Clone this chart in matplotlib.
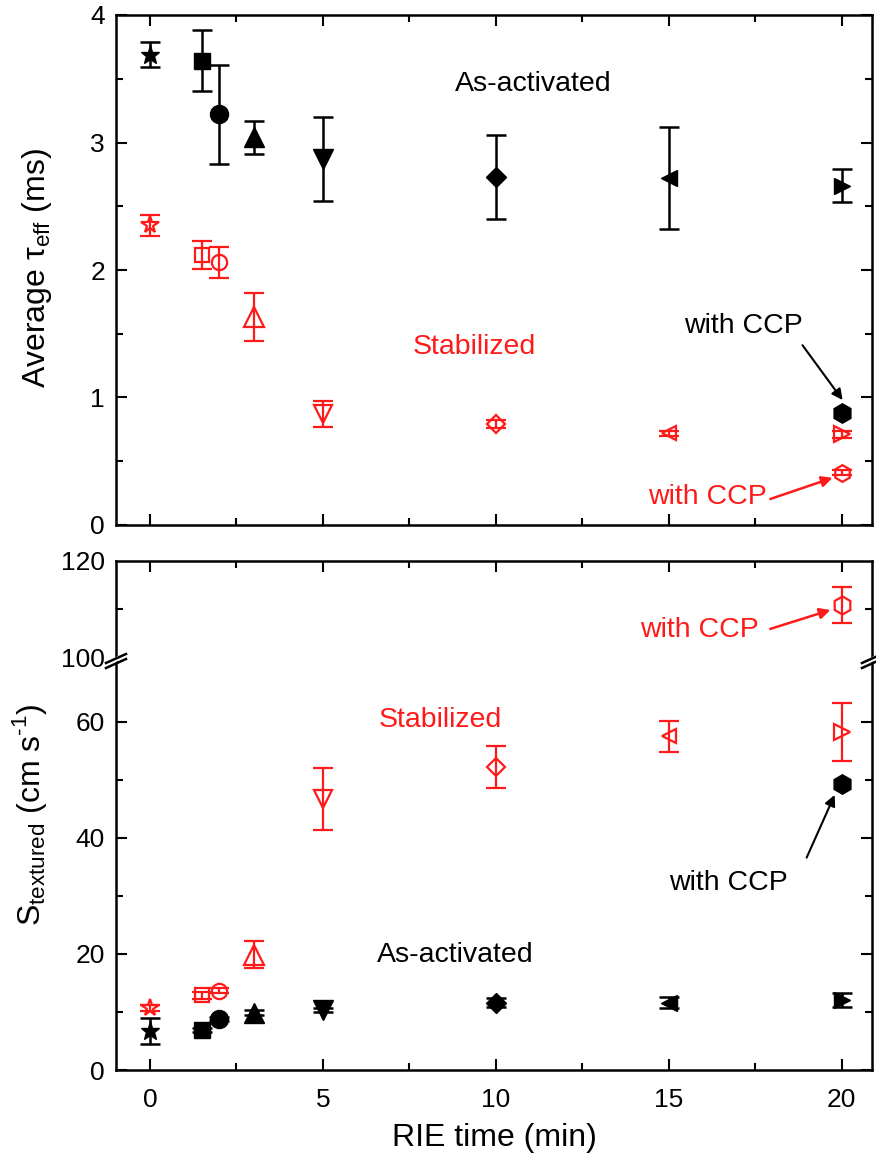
import matplotlib
matplotlib.use("Agg")
import matplotlib.pyplot as plt
from matplotlib.ticker import MultipleLocator, FixedLocator, NullFormatter
from matplotlib.patches import Polygon

plt.rcParams['font.family'] = ['Liberation Sans', 'DejaVu Sans']
plt.rcParams['mathtext.fontset'] = 'custom'
plt.rcParams['mathtext.rm'] = 'Liberation Sans'

# data
rie = [0, 1.5, 2, 3, 5, 10, 15, 20]

tau_act = [3.69, 3.64, 3.22, 3.04, 2.87, 2.73, 2.72, 2.66]
tau_act_err = [0.10, 0.24, 0.39, 0.13, 0.33, 0.33, 0.40, 0.13]
tau_stab = [2.35, 2.12, 2.06, 1.63, 0.87, 0.79, 0.72, 0.71]
tau_stab_err = [0.08, 0.11, 0.12, 0.19, 0.10, 0.03, 0.02, 0.03]
tau_ccp_act = 0.88
tau_ccp_stab = 0.41
tau_ccp_stab_err = 0.02

s_act = [6.7, 6.9, 8.8, 9.9, 10.3, 11.6, 11.6, 12.1]
s_act_err = [2.3, 0.4, 0.3, 0.5, 0.3, 0.8, 1.0, 1.2]
s_stab = [10.7, 12.9, 13.7, 19.9, 46.7, 52.2, 57.5, 58.3]
s_stab_err = [0.5, 0.6, 0.5, 2.3, 5.3, 3.6, 2.7, 5.0]
s_ccp_act = 49.3
s_ccp_stab = 110.9
s_ccp_stab_err = 3.7
ccp_time = 20

# styles
markers = ['*', 's', 'o', '^', 'v', 'D', '<', '>']
ms_black = [14, 11, 13, 14, 14, 10, 12, 12]
ms_red = [13, 10, 11, 14, 13, 9, 10, 11]
RED = '#ff1a1a'
TICK_FS = 19
LABEL_FS = 23
NOTE_FS = 20.5

W, H = 876, 1159
fig = plt.figure(figsize=(W / 100, H / 100), dpi=100)


def frac(x0, y0, x1, y1):
    # pixel box (left, top, right, bottom) -> figure fraction rect
    return [x0 / W, 1 - y1 / H, (x1 - x0) / W, (y1 - y0) / H]


ax_top = fig.add_axes(frac(116, 15, 872, 525))
ax_hi = fig.add_axes(frac(116, 561, 872, 658))
ax_lo = fig.add_axes(frac(116, 658, 872, 1070))

XLIM = (-0.98, 20.88)


def points(ax, y_act, e_act, y_stab, e_stab):
    for i, x in enumerate(rie):
        ax.errorbar(x, y_stab[i], yerr=e_stab[i], fmt=markers[i], ms=ms_red[i],
                    mfc='none', mec=RED, mew=1.6, color=RED, elinewidth=1.6,
                    capsize=7, capthick=1.6, zorder=3)
    for i, x in enumerate(rie):
        ax.errorbar(x, y_act[i], yerr=e_act[i], fmt=markers[i], ms=ms_black[i],
                    color='black', elinewidth=1.8, capsize=7, capthick=1.8,
                    zorder=4)


def style(ax):
    ax.set_xlim(*XLIM)
    ax.xaxis.set_major_locator(MultipleLocator(5))
    ax.xaxis.set_minor_locator(MultipleLocator(2.5))
    ax.tick_params(which='both', direction='in', width=1.5, top=True, right=True,
                   labelsize=TICK_FS)
    ax.tick_params(axis='x', pad=13)
    ax.tick_params(axis='y', pad=8)
    ax.tick_params(which='major', length=8)
    ax.tick_params(which='minor', length=5)
    for sp in ax.spines.values():
        sp.set_linewidth(1.8)


# top panel: lifetime
points(ax_top, tau_act, tau_act_err, tau_stab, tau_stab_err)
ax_top.errorbar(ccp_time, tau_ccp_stab, yerr=tau_ccp_stab_err, fmt='h', ms=12,
                mfc='none', mec=RED, mew=1.6, color=RED, elinewidth=1.6,
                capsize=7, capthick=1.6, zorder=3)
ax_top.plot(ccp_time, tau_ccp_act, 'h', ms=14, color='black', zorder=4)
style(ax_top)
ax_top.set_ylim(0, 4)
ax_top.yaxis.set_major_locator(MultipleLocator(1))
ax_top.yaxis.set_minor_locator(MultipleLocator(0.5))
ax_top.xaxis.set_major_formatter(NullFormatter())

ax_top.text(11.09, 3.46, 'As-activated', fontsize=NOTE_FS, ha='center', va='center')
ax_top.text(9.38, 1.40, 'Stabilized', fontsize=NOTE_FS, ha='center', va='center', color=RED)
ax_top.text(17.16, 1.56, 'with CCP', fontsize=NOTE_FS, ha='center', va='center')
ax_top.annotate('', xy=(20.03, 0.98), xytext=(18.87, 1.41),
                arrowprops=dict(arrowstyle='-|>', color='black', lw=1.5,
                                mutation_scale=16, shrinkA=0, shrinkB=0))
ax_top.text(16.12, 0.22, 'with CCP', fontsize=NOTE_FS, ha='center', va='center', color=RED)
ax_top.annotate('', xy=(19.74, 0.37), xytext=(17.94, 0.204),
                arrowprops=dict(arrowstyle='-|>', color=RED, lw=1.8,
                                mutation_scale=16, shrinkA=0, shrinkB=0))

# bottom panel: surface recombination velocity, broken y axis
points(ax_lo, s_act, s_act_err, s_stab, s_stab_err)
ax_lo.plot(ccp_time, s_ccp_act, 'h', ms=14, color='black', zorder=4)
ax_hi.errorbar(ccp_time, s_ccp_stab, yerr=s_ccp_stab_err, fmt='h', ms=13,
               mfc='none', mec=RED, mew=1.6, color=RED, elinewidth=1.6,
               capsize=7, capthick=1.6, zorder=3)

style(ax_lo)
style(ax_hi)
ax_lo.set_ylim(0, 71)
ax_lo.yaxis.set_major_locator(FixedLocator([0, 20, 40, 60]))
ax_lo.yaxis.set_minor_locator(FixedLocator([10, 30, 50]))
ax_lo.spines['top'].set_visible(False)
ax_lo.tick_params(axis='x', which='both', top=False)
ax_lo.set_xlabel('RIE time (min)', fontsize=LABEL_FS, labelpad=8)

ax_hi.set_ylim(100, 120)
ax_hi.yaxis.set_major_locator(FixedLocator([100, 120]))
ax_hi.yaxis.set_minor_locator(FixedLocator([110]))
ax_hi.spines['bottom'].set_visible(False)
ax_hi.tick_params(axis='x', which='both', bottom=False, labelbottom=False)
ax_hi.tick_params(axis='y', which='major', length=0)

ax_lo.text(8.39, 60.3, 'Stabilized', fontsize=NOTE_FS, ha='center', va='center', color=RED)
ax_lo.text(8.83, 19.8, 'As-activated', fontsize=NOTE_FS, ha='center', va='center')
ax_lo.text(16.73, 32.2, 'with CCP', fontsize=NOTE_FS, ha='center', va='center')
ax_lo.annotate('', xy=(19.80, 47.4), xytext=(18.99, 36.6),
               arrowprops=dict(arrowstyle='-|>', color='black', lw=1.5,
                               mutation_scale=16, shrinkA=0, shrinkB=0))
ax_hi.text(15.89, 105.8, 'with CCP', fontsize=NOTE_FS, ha='center', va='center', color=RED)
ax_hi.annotate('', xy=(19.68, 109.9), xytext=(17.94, 106.0),
               arrowprops=dict(arrowstyle='-|>', color=RED, lw=1.8,
                               mutation_scale=16, shrinkA=0, shrinkB=0))

# y labels
fig.text(37 / W, 1 - 268 / H, 'Average τ$_\\mathregular{eff}$ (ms)',
         rotation=90, fontsize=LABEL_FS, ha='center', va='center')
fig.text(30 / W, 1 - 815 / H, 'S$_\\mathregular{textured}$ (cm s$^\\mathregular{\\text{-}1}$)',
         rotation=90, fontsize=LABEL_FS, ha='center', va='center')

# break marks on both spines
for xb in (116, 872):
    yb = 658
    cut = Polygon([((xb - 9) / W, 1 - (yb + 9) / H), ((xb + 9) / W, 1 - (yb - 1) / H),
                   ((xb + 9) / W, 1 - (yb - 6) / H), ((xb - 9) / W, 1 - (yb + 4) / H)],
                  closed=True, transform=fig.transFigure, fc='white', ec='none', zorder=10)
    fig.patches.append(cut)
    for off in (0, 5):
        fig.add_artist(plt.Line2D([(xb - 10) / W, (xb + 10) / W],
                                  [1 - (yb + 10 - off) / H, 1 - (yb + 1 - off) / H],
                                  color='black', lw=1.8, zorder=11))

fig.savefig('out.png', dpi=100)
